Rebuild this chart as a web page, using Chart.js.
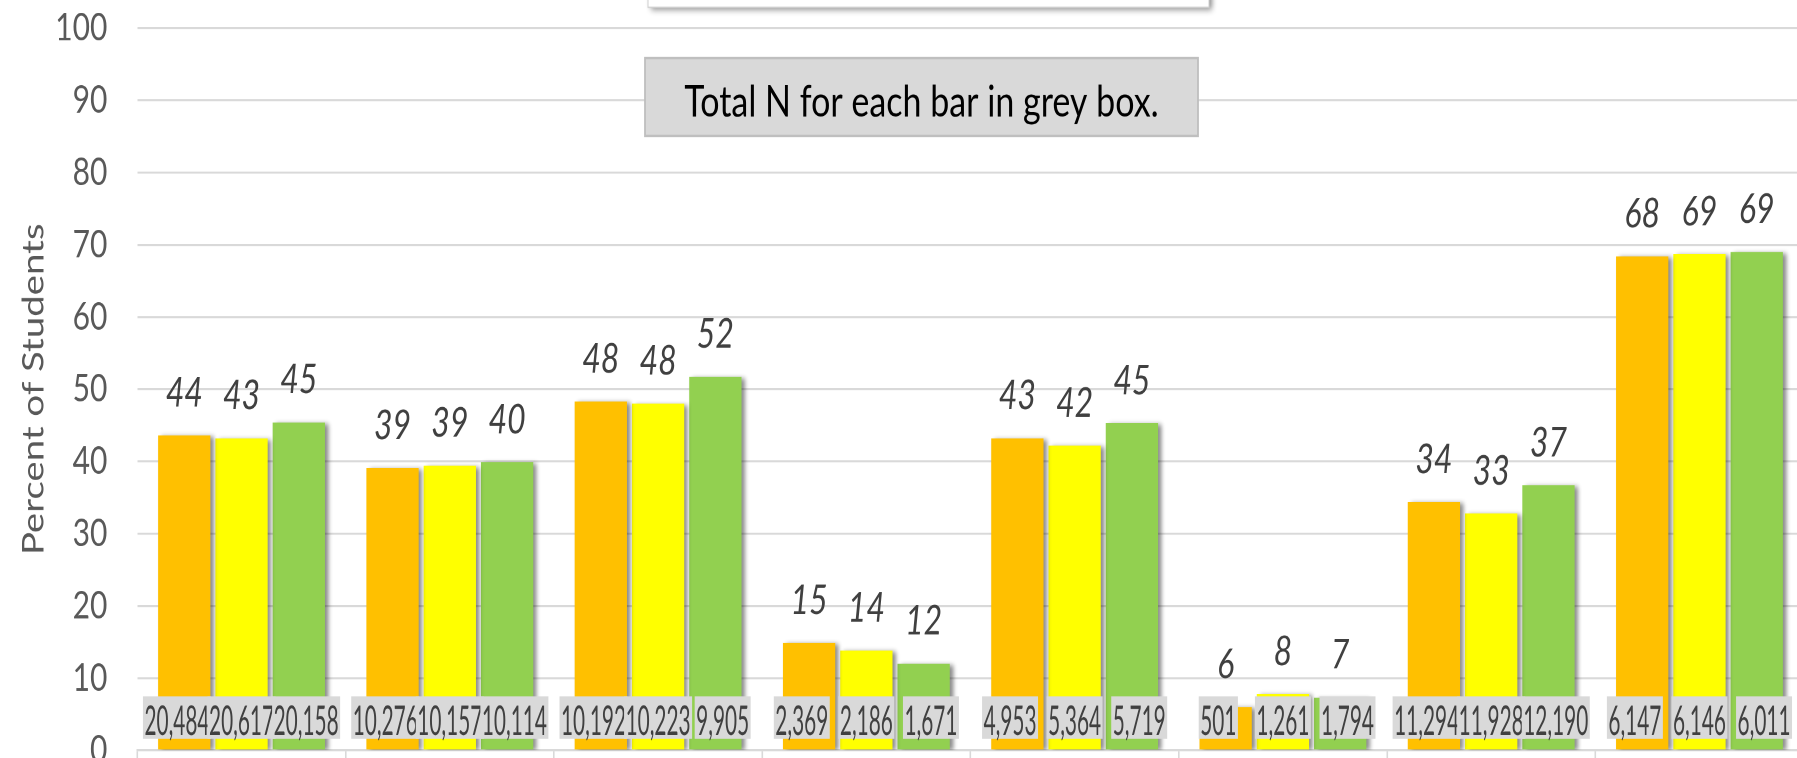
<!DOCTYPE html>
<html>
<head>
<meta charset="utf-8">
<script src="https://cdn.jsdelivr.net/npm/chart.js@4/dist/chart.umd.min.js"></script>
<style>
  html, body { margin: 0; padding: 0; background: #ffffff; overflow: hidden; }
  #wrap { position: relative; width: 1797px; height: 758px; overflow: hidden; background: #ffffff; }
  #c { position: absolute; left: 0; top: 0; transform-origin: 0 0; transform: scaleY(1.2804); }
</style>
</head>
<body>
<div id="wrap"><canvas id="c" width="1830" height="592"></canvas></div>
<script>
// Category names are cropped out of the reference picture (below the axis).
const categories = ['1', '2', '3', '4', '5', '6', '7', '8'];
const seriesNames = ['Series 1', 'Series 2', 'Series 3'];

// Percent of students (bar heights)
const orangeValues = [43.6, 39.1, 48.3, 14.9, 43.2, 6.0, 34.4, 68.4];
const yellowValues = [43.2, 39.4, 48.0, 13.8, 42.2, 7.8, 32.8, 68.7];
const greenValues  = [45.4, 39.9, 51.7, 12.0, 45.3, 7.3, 36.7, 69.0];

// Total N for each bar (grey boxes)
const orangeN = [20484, 10276, 10192, 2369, 4953, 501, 11294, 6147];
const yellowN = [20617, 10157, 10223, 2186, 5364, 1261, 11928, 6146];
const greenN  = [20158, 10114, 9905, 1671, 5719, 1794, 12190, 6011];

const yTicks = [0, 10, 20, 30, 40, 50, 60, 70, 80, 90, 100];
const yTitle = 'Percent of Students';
const noteText = 'Total N for each bar in grey box.';

const seriesColors = ['#FFC000', '#FFFF00', '#92D050'];
const nSeries = [orangeN, yellowN, greenN];

const decorPlugin = {
  id: 'decor',
  beforeDatasetsDraw(chart) {
    const ctx = chart.ctx;
    const r = chart.currentDevicePixelRatio || 1;
    ctx.save();
    ctx.shadowColor = 'rgba(0,0,0,0.45)';
    ctx.shadowBlur = 4 * r;
    ctx.shadowOffsetX = 3.5 * r;
    ctx.shadowOffsetY = 1 * r;
  },
  afterDatasetsDraw(chart) {
    const ctx = chart.ctx;
    ctx.restore();
    const bottom = chart.chartArea.bottom;
    const labelOffsets = [-7.3, 0, 7.3];
    const sx = 0.65;
    // grey N boxes
    chart.data.datasets.forEach((ds, di) => {
      const meta = chart.getDatasetMeta(di);
      meta.data.forEach((bar, i) => {
        const text = nSeries[di][i].toLocaleString('en-US');
        ctx.save();
        ctx.font = '32px Lato';
        const w = ctx.measureText(text).width * sx;
        const cx = bar.x + labelOffsets[di];
        const top = bottom - 42.2;
        const bot = bottom - 9.1;
        ctx.fillStyle = '#d9d9d9';
        ctx.fillRect(cx - w / 2 - 1.5, top, w + 3, bot - top);
        ctx.translate(cx, bottom - 12.0);
        ctx.scale(sx, 1);
        ctx.fillStyle = '#404040';
        ctx.textAlign = 'center';
        ctx.textBaseline = 'alphabetic';
        ctx.fillText(text, 0, 0);
        ctx.restore();
      });
    });
    // italic value labels
    chart.data.datasets.forEach((ds, di) => {
      const meta = chart.getDatasetMeta(di);
      meta.data.forEach((bar, i) => {
        ctx.save();
        ctx.font = 'italic 32px Lato';
        ctx.fillStyle = '#404040';
        ctx.textAlign = 'center';
        ctx.textBaseline = 'alphabetic';
        ctx.fillText(String(Math.round(ds.data[i])), bar.x, bar.y - 22.7);
        ctx.restore();
      });
    });
  },
  afterDraw(chart) {
    const ctx = chart.ctx;
    const r = chart.currentDevicePixelRatio || 1;
    // top white box (cropped)
    ctx.save();
    ctx.shadowColor = 'rgba(0,0,0,0.45)';
    ctx.shadowBlur = 5 * r;
    ctx.shadowOffsetX = 3 * r;
    ctx.shadowOffsetY = 2 * r;
    ctx.fillStyle = '#ffffff';
    ctx.fillRect(648, -20, 561, 25.7);
    ctx.restore();
    ctx.save();
    ctx.strokeStyle = '#d0d0d0';
    ctx.lineWidth = 1;
    ctx.strokeRect(648, -20, 561, 25.7);
    ctx.restore();
    // grey note box
    ctx.save();
    ctx.fillStyle = '#d9d9d9';
    ctx.fillRect(645, 45.3, 553, 60.9);
    ctx.strokeStyle = '#bfbfbf';
    ctx.lineWidth = 1.8;
    ctx.strokeRect(645, 45.3, 553, 60.9);
    ctx.font = '34px Lato';
    ctx.fillStyle = '#000000';
    ctx.textAlign = 'center';
    ctx.textBaseline = 'alphabetic';
    ctx.fillText(noteText, 921.5, 91.1);
    ctx.restore();
  }
};

const ctx = document.getElementById('c').getContext('2d');
new Chart(ctx, {
  type: 'bar',
  data: {
    labels: categories,
    datasets: [
      { label: seriesNames[0], data: orangeValues, backgroundColor: seriesColors[0] },
      { label: seriesNames[1], data: yellowValues, backgroundColor: seriesColors[1] },
      { label: seriesNames[2], data: greenValues, backgroundColor: seriesColors[2] }
    ]
  },
  options: {
    responsive: false,
    animation: false,
    devicePixelRatio: 2,
    layout: { padding: { left: 0, right: 26.4, top: 22, bottom: 0 } },
    datasets: {
      bar: { categoryPercentage: 0.825, barPercentage: 0.913, borderWidth: 0 }
    },
    plugins: {
      legend: { display: false },
      tooltip: { enabled: false }
    },
    scales: {
      x: {
        offset: true,
        ticks: { display: false },
        grid: { display: true, offset: true, drawOnChartArea: false, drawTicks: true, tickLength: 8, color: '#d9d9d9', lineWidth: 1.6 },
        border: { display: true, color: '#d9d9d9', width: 1.6 },
        afterFit(scale) { scale.height = 6; scale.paddingLeft = 0; scale.paddingRight = 0; }
      },
      y: {
        min: 0,
        max: 100,
        afterBuildTicks(scale) { scale.ticks = yTicks.map(v => ({ value: v })); },
        ticks: { padding: 30, color: '#595959', font: { family: 'Lato', size: 30 } },
        grid: { color: '#d9d9d9', lineWidth: 1.6, drawTicks: false },
        border: { display: false },
        title: {
          display: true,
          text: yTitle,
          color: '#595959',
          font: { family: 'Lato', size: 30, lineHeight: 1.2 },
          padding: { top: 16, bottom: 0 }
        },
        afterFit(scale) { scale.width = 137.4; scale.paddingTop = 0; scale.paddingBottom = 0; }
      }
    }
  },
  plugins: [decorPlugin]
});
</script>
</body>
</html>
